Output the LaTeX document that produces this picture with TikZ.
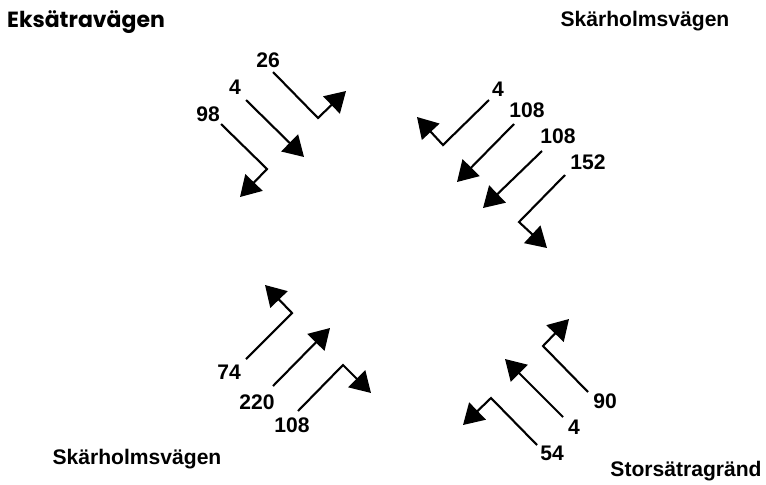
\documentclass[tikz,border=0pt]{standalone}
\usepackage{fontspec}
\setmainfont{Liberation Sans}
\newfontfamily\streetfont{Poppins}
\usetikzlibrary{arrows.meta}

\tikzset{
  flow/.style={line width=1.2pt, -{Triangle[length=11.5pt, width=13.5pt]}},
  num/.style={font=\bfseries\fontsize{12}{13}\selectfont, inner sep=0pt},
  street/.style={font=\bfseries\fontsize{12}{14}\selectfont, inner sep=0pt}
}

\begin{document}
\begin{tikzpicture}[x=0.02cm, y=-0.02cm]
        \useasboundingbox (0,0) rectangle (766,484);

        % street names
        \node[street, font=\streetfont\bfseries\fontsize{12.5}{14}\selectfont] (eks) at (86,22) {Eksätravägen};
        \node[street] (skaN) at (645,21) {Skärholmsvägen};
        \node[street] (skaS) at (137,459) {Skärholmsvägen};
        \node[street] (stor) at (686,471) {Storsätragränd};

        % top left
        \draw[flow] (221,124) -- (267,169) -- (240,197);
        \draw[flow] (246,100) -- (304,157);
        \draw[flow] (273,72) -- (318,118) -- (346,91);
        \node[num] (tl98) at (208,114) {98};
        \node[num] (tl4) at (235,87) {4};
        \node[num] (tl26) at (268,60) {26};

        % top right
        \draw[flow] (489,100) -- (443,145) -- (417,117);
        \draw[flow] (514,124) -- (457,182);
        \draw[flow] (542,151) -- (483,208);
        \draw[flow] (565,175) -- (519,222) -- (547,248);
        \node[num] (tr4) at (498,89) {4};
        \node[num] (tr108a) at (527,110) {108};
        \node[num] (tr108b) at (558,136) {108};
        \node[num] (tr152) at (588,162) {152};

        % bottom left
        \draw[flow] (246,359) -- (292,313) -- (265,285);
        \draw[flow] (273,386) -- (330,328);
        \draw[flow] (298,411) -- (343,365) -- (371,393);
        \node[num] (bl74) at (229,372) {74};
        \node[num] (bl220) at (257,402) {220};
        \node[num] (bl108) at (292,425) {108};

        % bottom right
        \draw[flow] (588,392) -- (543,346) -- (569,319);
        \draw[flow] (563,417) -- (505,359);
        \draw[flow] (537,445) -- (491,398) -- (463,425);
        \node[num] (br90) at (605,401) {90};
        \node[num] (br4) at (574,427) {4};
        \node[num] (br54) at (552,453) {54};
\end{tikzpicture}
\end{document}
